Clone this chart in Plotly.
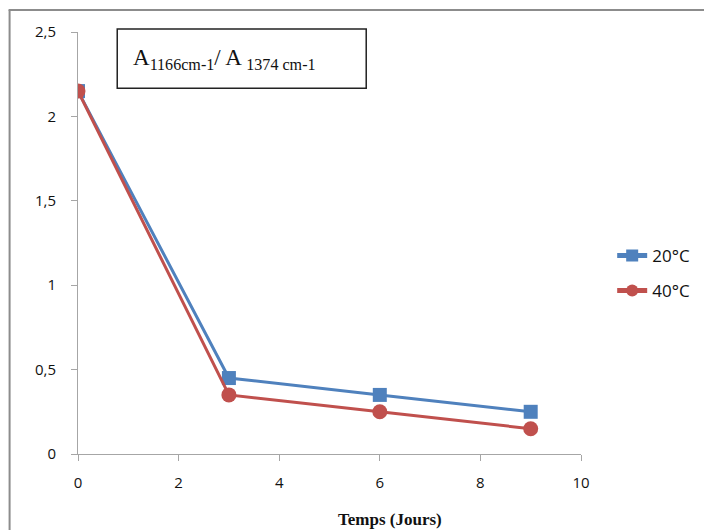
import plotly.graph_objects as go

# Absorbance ratio over storage time
days = [0, 3, 6, 9]
ratio_20c = [2.15, 0.45, 0.35, 0.25]
ratio_40c = [2.15, 0.35, 0.25, 0.15]
series_names = ["20°C", "40°C"]

x_ticks = [0, 2, 4, 6, 8, 10]
y_ticks = [0, 0.5, 1, 1.5, 2, 2.5]

blue = "#4F81BD"
red = "#C0504D"
axis_grey = "#A6A6A6"
frame_grey = "#8C8C8C"

fig = go.Figure()
fig.add_trace(go.Scatter(
    x=days, y=ratio_20c, name=series_names[0], mode="lines+markers",
    legendgroup="a",
    line=dict(color=blue, width=3),
    marker=dict(symbol="square", size=14, color=blue),
))
fig.add_trace(go.Scatter(
    x=days, y=ratio_40c, name=series_names[1], mode="lines+markers",
    legendgroup="b",
    line=dict(color=red, width=3),
    marker=dict(symbol="circle", size=15, color=red),
))

tick_font = dict(family="Open Sans, Noto Sans, sans-serif", size=15, color="#111")

fig.update_layout(
    width=704, height=530,
    margin=dict(l=78, r=123, t=32, b=76, autoexpand=False),
    paper_bgcolor="white", plot_bgcolor="white",
    separators=", ",
    showlegend=True,
    legend=dict(
        x=1.062, y=0.428, xanchor="left", yanchor="middle",
        font=dict(family="Open Sans, Noto Sans, sans-serif", size=17, color="#111"),
        tracegroupgap=10, itemsizing="constant", bgcolor="rgba(0,0,0,0)",
    ),
    xaxis=dict(
        range=[0, 10], tickvals=x_ticks, showgrid=False, zeroline=False,
        showline=True, linecolor=axis_grey, linewidth=1,
        ticks="outside", ticklen=6, tickcolor=axis_grey,
        tickfont=tick_font, ticklabelstandoff=9,
    ),
    yaxis=dict(
        range=[0, 2.5], tickvals=y_ticks, showgrid=False, zeroline=False,
        showline=True, linecolor=axis_grey, linewidth=1,
        ticks="outside", ticklen=6, tickcolor=axis_grey,
        tickfont=tick_font, ticklabelstandoff=12,
    ),
    shapes=[
        # outer chart frame: left and top edges
        dict(type="line", xref="paper", yref="paper",
             x0=-0.136, y0=-0.5, x1=-0.136, y1=1.052,
             line=dict(color=frame_grey, width=2), layer="below"),
        dict(type="line", xref="paper", yref="paper",
             x0=-0.138, y0=1.052, x1=1.5, y1=1.052,
             line=dict(color=frame_grey, width=2), layer="below"),
        # label box
        dict(type="rect", xref="paper", yref="paper",
             x0=0.078, y0=0.867, x1=0.573, y1=1.007,
             line=dict(color="#222", width=1.5), fillcolor="white"),
    ],
    annotations=[
        dict(xref="paper", yref="paper", x=0.105, y=0.937,
             xanchor="left", yanchor="middle", showarrow=False,
             text="A<sub>1166cm-1</sub>/ A <sub>1374 cm-1</sub>",
             font=dict(family="Liberation Serif, serif", size=23, color="#111")),
        dict(xref="paper", yref="paper", x=0.621, y=-0.155,
             xanchor="center", yanchor="middle", showarrow=False,
             text="<b>Temps (Jours)</b>",
             font=dict(family="Liberation Serif, serif", size=17, color="#111")),
    ],
)

fig.write_html("out.html")
